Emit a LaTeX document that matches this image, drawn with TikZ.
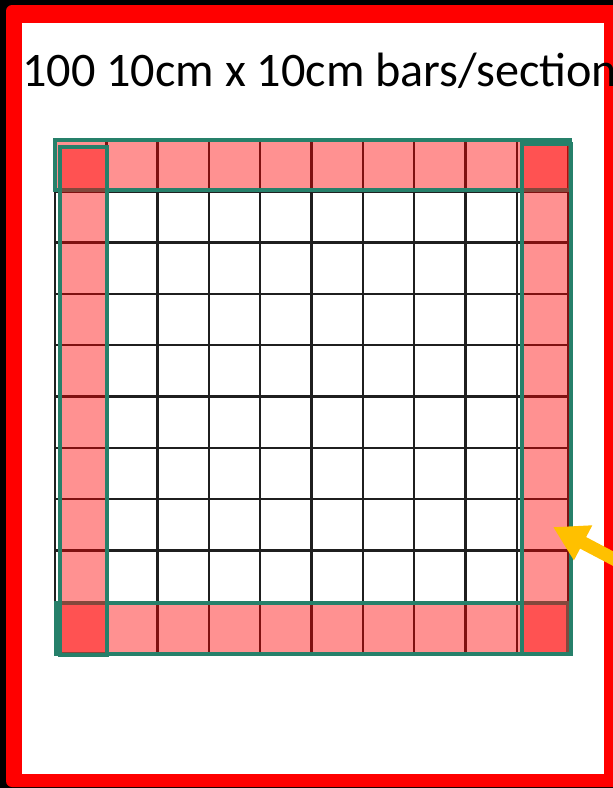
\documentclass[tikz,border=0pt]{standalone}
\usepackage{fontspec}
\setmainfont{Carlito}
\usetikzlibrary{arrows.meta}
\definecolor{teal2}{RGB}{38,128,106}
\definecolor{frame}{RGB}{255,0,0}
\definecolor{orng}{RGB}{255,192,0}
\tikzset{
  gridline/.style={line width=2.4pt, black!88},
  band/.style={fill=red, fill opacity=0.43, draw=teal2, draw opacity=1, line width=3.2pt},
  pointer/.style={orng, line width=13pt, -{Triangle[length=34pt,width=37pt]}},
}
\begin{document}
\begin{tikzpicture}[x=1pt,y=-1pt]
\useasboundingbox (0,0) rectangle (613,788);
\fill[black] (0,0) rectangle (613,788);
% red frame
\fill[frame, rounded corners=6pt] (6,5) rectangle (640,787);
\fill[white] (21.5,23) rectangle (604,774);
% grid
\foreach \i in {0,...,10} {
  \draw[gridline] ({55+51.3*\i},140) -- ({55+51.3*\i},653);
  \draw[gridline] (55,{140+51.3*\i}) -- (568,{140+51.3*\i});
}
% bands
\path[band] (55,140) rectangle (570,190);
\path[band] (56,603) rectangle (568,654);
\path[band] (60,147) rectangle (107,655);
\path[band] (522,144) rectangle (571,654);
% arrow
\coordinate (tip) at (553,527);
\coordinate (tail) at (650,578);
\draw[pointer] (tail) -- (tip);
% title
\node[anchor=base west, inner sep=0pt, font=\fontsize{48.2}{58}\selectfont] (title) at (22,86) {100 10cm x 10cm bars/section};
\end{tikzpicture}
\end{document}
